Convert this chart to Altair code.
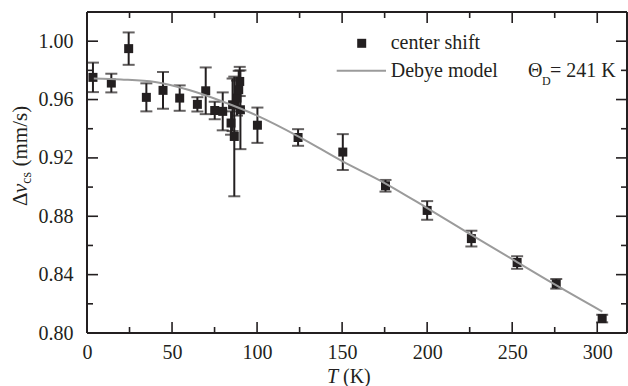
import altair as alt
import pandas as pd

# ---------------- data ----------------
T = [3.5, 14.3, 24.5, 34.9, 44.7, 54.5, 64.9, 69.8, 75.1, 79.8,
     84.7, 85.6, 86.6, 88.2, 89.2, 89.8, 90.2,
     100.2, 124.1, 150.4, 175.5, 200.0, 226.0, 252.9, 275.9, 302.9]
V = [0.9752, 0.9713, 0.9949, 0.9615, 0.9663, 0.9610, 0.9567, 0.9660, 0.9525, 0.9519,
     0.9439, 0.9564, 0.9347, 0.9610, 0.9667, 0.9724, 0.9530,
     0.9424, 0.9340, 0.9240, 0.9009, 0.8840, 0.8647, 0.8483, 0.8337, 0.8099]
ERR = [0.0101, 0.0064, 0.0111, 0.0096, 0.0126, 0.0087, 0.0049, 0.0160, 0.0060, 0.0130,
       0.0080, 0.0180, 0.0410, 0.0120, 0.0130, 0.0100, 0.0270,
       0.0121, 0.0057, 0.0123, 0.0040, 0.0064, 0.0054, 0.0043, 0.0033, 0.0026]

curve_T = [4, 20, 40, 60, 80, 100, 125, 150, 175, 200, 225, 250, 275, 303]
curve_V = [0.9745, 0.9738, 0.9720, 0.9665, 0.9585, 0.9490, 0.9343, 0.9178,
           0.9028, 0.8856, 0.8680, 0.8506, 0.8333, 0.8147]

x_major = [0, 50, 100, 150, 200, 250, 300]
x_minor = [25, 75, 125, 175, 225, 275]
y_major = [0.80, 0.84, 0.88, 0.92, 0.96, 1.00]
y_minor = [0.82, 0.86, 0.90, 0.94, 0.98]

legend_points = "center shift"
legend_line = "Debye model"
theta_value = "= 241 K"

# ---------------- styling ----------------
FONT = "Liberation Serif"
INK = "#231f20"
GRAY = "#9b9b9b"
W, H = 540, 321
XMAX = 317.5
YMIN, YMAX = 0.80, 1.02

xs = alt.Scale(domain=[0, XMAX], nice=False, zero=False)
ys = alt.Scale(domain=[YMIN, YMAX], nice=False, zero=False)
x_axis = alt.Axis(values=x_major, title=None, ticks=False, domain=False, grid=False,
                  labelFont=FONT, labelFontSize=20, labelColor=INK, labelPadding=9,
                  labelFlush=False, format="d")
y_axis = alt.Axis(values=y_major, title=None, ticks=False, domain=False, grid=False,
                  labelFont=FONT, labelFontSize=20, labelColor=INK, labelPadding=14,
                  format=".2f")

pts = pd.DataFrame({"T": T, "v": V, "err": ERR})
pts["lo"] = pts["v"] - pts["err"]
pts["hi"] = pts["v"] + pts["err"]
curve = pd.DataFrame({"T": curve_T, "v": curve_V})

X = lambda f: alt.X(f, type="quantitative", scale=xs, axis=x_axis)
Y = lambda f: alt.Y(f, type="quantitative", scale=ys, axis=y_axis)

bars = alt.Chart(pts).mark_rule(color=INK, strokeWidth=2).encode(
    x=X("T"), y=Y("lo"), y2="hi")
caps_lo = alt.Chart(pts).mark_tick(color=INK, orient="horizontal", size=12, thickness=2).encode(
    x=X("T"), y=Y("lo"))
caps_hi = alt.Chart(pts).mark_tick(color=INK, orient="horizontal", size=12, thickness=2).encode(
    x=X("T"), y=Y("hi"))
squares = alt.Chart(pts).mark_square(size=81, color=INK, opacity=1, filled=True).encode(
    x=X("T"), y=Y("v"))
line = alt.Chart(curve).mark_line(color=GRAY, strokeWidth=2, interpolate="monotone").encode(
    x=X("T"), y=Y("v"))

# frame (drawn as rules so it is crisp and dark)
frame = alt.Chart(pd.DataFrame({"a": [0]})).mark_rule(color=INK, strokeWidth=2)
frame_layers = [
    frame.encode(x=alt.value(0), y=alt.value(0), y2=alt.value(H)),
    frame.encode(x=alt.value(W), y=alt.value(0), y2=alt.value(H)),
    frame.encode(y=alt.value(0), x=alt.value(0), x2=alt.value(W)),
    frame.encode(y=alt.value(H), x=alt.value(0), x2=alt.value(W)),
]

# inward ticks on all four sides
def xticks(vals, y0, y1):
    df = pd.DataFrame({"t": vals})
    return alt.Chart(df).mark_rule(color=INK, strokeWidth=1.6).encode(
        x=X("t"), y=alt.value(y0), y2=alt.value(y1))

def yticks(vals, x0, x1):
    df = pd.DataFrame({"t": vals})
    return alt.Chart(df).mark_rule(color=INK, strokeWidth=1.6).encode(
        y=Y("t"), x=alt.value(x0), x2=alt.value(x1))

ticks = [
    xticks(x_major, H, H - 11), xticks(x_minor, H, H - 6),
    xticks(x_major, 0, 11), xticks(x_minor, 0, 6),
    yticks(y_major, 0, 11), yticks(y_minor, 0, 6),
    yticks(y_major, W, W - 11), yticks(y_minor, W, W - 6),
]

one = pd.DataFrame({"a": [0]})

def txt(s, x, y, size=20, italic=False, angle=0):
    kw = dict(text=s, font=FONT, fontSize=size, align="left", baseline="middle", color=INK)
    if italic:
        kw["fontStyle"] = "italic"
    if angle:
        kw["angle"] = angle
    return alt.Chart(one).mark_text(**kw).encode(x=alt.value(x), y=alt.value(y))

legend = [
    alt.Chart(one).mark_square(size=81, color=INK, opacity=1, filled=True).encode(
        x=alt.value(274.7), y=alt.value(31.3)),
    alt.Chart(one).mark_rule(color=GRAY, strokeWidth=2).encode(
        x=alt.value(249.7), x2=alt.value(299), y=alt.value(58.7)),
    txt(legend_points, 303.7, 31.3),
    txt(legend_line, 303.7, 58.7),
    txt("Θ", 441, 58.7),
    txt("D", 455, 69, size=12),
    txt(theta_value, 463, 58.7),
]

titles = [
    txt("T", 240, 364.5, italic=True),
    txt("(K)", 256, 364.5),
    txt("Δ", -66, 194, size=21, angle=270),
    txt("v", -66, 181.1, size=21, italic=True, angle=270),
    txt("cs", -60.5, 171.8, size=14, angle=270),
    txt("(mm/s)", -66, 154.5, size=21, angle=270),
]

chart = alt.layer(
    *ticks, bars, caps_lo, caps_hi, squares, line, *frame_layers, *legend, *titles
).properties(
    width=W, height=H,
    padding={"left": 87, "top": 12, "right": 1, "bottom": 53},
    autosize="none",
).configure(
    background="white", font=FONT
).configure_view(stroke=None)

chart.save("out.html", embed_options={"renderer": "svg", "actions": False})
